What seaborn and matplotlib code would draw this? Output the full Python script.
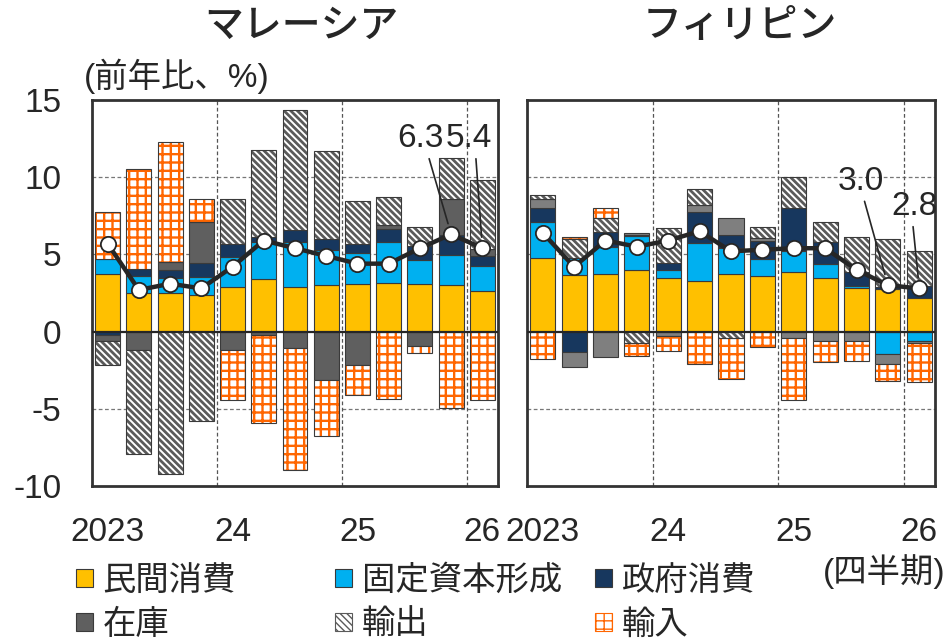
import numpy as np
import matplotlib
matplotlib.use("Agg")
import matplotlib.pyplot as plt
import seaborn as sns
from matplotlib.patches import Patch

# ---- data: contributions to real GDP growth (y/y, %pt), 2023Q1-2026Q1 ----
quarters = ["23Q1", "23Q2", "23Q3", "23Q4", "24Q1", "24Q2", "24Q3", "24Q4",
            "25Q1", "25Q2", "25Q3", "25Q4", "26Q1"]
tick_pos = [0, 4, 8, 12]
tick_labels = ["2023", "24", "25", "26"]
y_ticks = [-10, -5, 0, 5, 10, 15]
y_tick_labels = ["-10", "-5", "0", "5", "10", "15"]

component_names = ["民間消費", "固定資本形成", "政府消費", "在庫", "輸出", "輸入"]

# Malaysia
my_private = [3.70, 2.47, 2.47, 2.36, 2.86, 3.42, 2.88, 3.05, 3.07, 3.16, 3.07, 3.05, 2.60]
my_gfcf = [1.02, 1.14, 0.97, 1.15, 1.99, 2.38, 2.94, 2.23, 2.04, 2.66, 1.56, 1.91, 1.66]
my_gov = [-0.25, 0.43, 0.54, 0.91, 0.84, 0.30, 0.76, 0.69, 0.56, 0.80, 0.91, 1.30, 0.63]
my_stock = [-0.37, -1.17, 0.50, 2.70, -1.17, -0.25, -1.04, -3.12, -2.19, 0.30, -0.95, 2.33, 0.43]
my_export = [-1.52, -6.75, -9.22, -5.76, 2.90, 5.63, 7.75, 5.70, 2.79, 1.77, 1.21, 2.64, 4.51]
my_import = [3.00, 6.49, 7.79, 1.45, -3.29, -5.66, -7.90, -3.61, -1.90, -4.35, -0.41, -4.96, -4.46]
my_gdp = [5.7, 2.7, 3.1, 2.8, 4.2, 5.9, 5.4, 4.9, 4.4, 4.4, 5.4, 6.3, 5.4]

# Philippines
ph_private = [4.74, 3.67, 3.70, 3.98, 3.48, 3.30, 3.76, 3.57, 3.87, 3.48, 2.83, 2.78, 2.17]
ph_gfcf = [2.37, 1.11, 1.78, 2.19, 0.54, 2.46, 1.67, 1.11, 1.35, 0.87, 0.15, -1.46, -0.59]
ph_gov = [0.89, -1.35, 0.96, 0.10, 0.44, 2.00, 0.83, 1.20, 2.76, 1.48, 0.87, 0.10, 0.80]
ph_stock = [0.59, -0.93, -1.63, 0.10, -0.28, 0.43, 1.07, 0.15, -0.43, -0.61, -0.61, -0.67, -0.17]
ph_export = [0.26, 1.20, 0.89, -0.75, 2.28, 1.02, -0.40, 0.72, 2.02, 1.30, 2.30, 3.10, 2.24]
ph_import = [-1.78, 0.17, 0.67, -0.85, -0.96, -2.10, -2.64, -0.98, -4.03, -1.39, -1.30, -1.09, -2.50]
ph_gdp = [6.4, 4.2, 5.9, 5.5, 5.9, 6.5, 5.2, 5.3, 5.4, 5.4, 4.0, 3.0, 2.8]

# ---- style ----
sns.set_theme(style="white")
plt.rcParams["font.family"] = ["Liberation Sans", "Noto Sans CJK JP", "DejaVu Sans"]

TEXT = "#262626"
EDGE = "#3a3a3a"
C_PRIVATE = "#FFC000"
C_GFCF = "#00B0F0"
C_GOV = "#17375E"
C_EXPORT = "#5a5a5a"
C_IMPORT = "#FF6600"


def styles(stock_color):
    return [
        dict(color=C_PRIVATE, hatch=None),
        dict(color=C_GFCF, hatch=None),
        dict(color=C_GOV, hatch=None),
        dict(color=stock_color, hatch=None),
        dict(color="white", hatch="\\\\\\\\\\", hatch_color=C_EXPORT, hlw=2.0),
        dict(color="white", hatch="++", hatch_color=C_IMPORT, hlw=1.7),
    ]


def draw_panel(ax, comps, gdp, stock_color, labels):
    x = np.arange(len(quarters))
    pos_base = np.zeros(len(x))
    neg_base = np.zeros(len(x))
    for vals, st in zip(comps, styles(stock_color)):
        v = np.asarray(vals, dtype=float)
        bottom = np.where(v > 0, pos_base, neg_base)
        if st["hatch"] is None:
            ax.bar(x, v, bottom=bottom, width=0.8, color=st["color"],
                   edgecolor=EDGE, linewidth=0.8, zorder=2)
        else:
            with plt.rc_context({"hatch.linewidth": st["hlw"]}):
                bars = ax.bar(x, v, bottom=bottom, width=0.8, color="white",
                              edgecolor=st["hatch_color"], linewidth=0,
                              hatch=st["hatch"], zorder=2)
            for b in bars:
                if hasattr(b, "set_hatch_linewidth"):
                    b.set_hatch_linewidth(st["hlw"])
            ax.bar(x, v, bottom=bottom, width=0.8, fill=False,
                   edgecolor=EDGE, linewidth=0.8, zorder=2.1)
        pos_base += np.where(v > 0, v, 0)
        neg_base += np.where(v < 0, v, 0)

    # reference lines
    for yv in (10, 5, -5):
        ax.axhline(yv, color="#777777", lw=0.9, ls=(0, (3, 2)), zorder=0)
    for xv in (3.5, 7.5, 11.5):
        ax.axvline(xv, color="#555555", lw=0.9, ls=(0, (3, 2)), zorder=0)
    ax.axhline(0, color=TEXT, lw=1.6, zorder=4)

    sns.lineplot(x=x, y=gdp, ax=ax, color=TEXT, lw=3.2, marker="o",
                 markersize=11, markerfacecolor="white",
                 markeredgecolor=TEXT, markeredgewidth=1.3, zorder=5)

    for text, xi, xt, yt, rel in labels:
        ax.annotate(text, xy=(xi, gdp[xi]), xytext=(xt, yt), ha="center",
                    va="center", fontsize=24, color=TEXT, zorder=6,
                    arrowprops=dict(arrowstyle="-", color=TEXT, lw=1.2,
                                    shrinkA=1, shrinkB=8, relpos=(rel, 0.0)))

    ax.set_xlim(-0.5, 12.5)
    ax.set_ylim(-10, 15)
    ax.set_xticks(tick_pos, tick_labels)
    ax.set_xlabel("")
    ax.set_ylabel("")
    ax.tick_params(axis="both", length=0, labelsize=24, colors=TEXT)
    ax.tick_params(axis="x", pad=22)
    ax.tick_params(axis="y", pad=22)
    for sp in ax.spines.values():
        sp.set_visible(True)
        sp.set_color("#333333")
        sp.set_linewidth(2.0)


fig = plt.figure(figsize=(9.46, 6.43), dpi=100)
W, H = 946, 643
ax1 = fig.add_axes([92 / W, 1 - 486 / H, 406 / W, 386 / H])
ax2 = fig.add_axes([527 / W, 1 - 486 / H, 408 / W, 386 / H])

draw_panel(ax1, [my_private, my_gfcf, my_gov, my_stock, my_export, my_import],
           my_gdp, "#5f5f5f",
           [("6.3", 11, 10.03, 12.5, 0.65), ("5.4", 12, 11.56, 12.5, 0.65)])
draw_panel(ax2, [ph_private, ph_gfcf, ph_gov, ph_stock, ph_export, ph_import],
           ph_gdp, "#7f7f7f",
           [("3.0", 11, 10.14, 9.74, 0.55), ("2.8", 12, 11.86, 8.1, 0.45)])

ax1.set_yticks(y_ticks, y_tick_labels)
ax2.set_yticks(y_ticks, [])

# titles and notes
fig.text(301 / W, 1 - 27 / H, "マレーシア", ha="center", va="center",
         fontsize=28, fontweight="medium", color=TEXT)
fig.text(740 / W, 1 - 27 / H, "フィリピン", ha="center", va="center",
         fontsize=28, fontweight="medium", color=TEXT)
fig.text(84 / W, 1 - 76 / H, "(前年比、%)", ha="left", va="center",
         fontsize=24, color=TEXT)
fig.text(945 / W, 1 - 572 / H, "(四半期)", ha="right", va="center",
         fontsize=24, color=TEXT)

# legend, one entry per slot
st = styles("#5f5f5f")
handles = []
for s in st:
    if s["hatch"] is None:
        handles.append(Patch(facecolor=s["color"], edgecolor=EDGE, linewidth=0.8))
    else:
        handles.append(Patch(facecolor="white", edgecolor=s["hatch_color"],
                             hatch=s["hatch"], linewidth=0.8))
slots = [(76, 581), (335, 581), (595, 581), (76, 625), (335, 625), (595, 625)]
for h, name, (lx, ly) in zip(handles, component_names, slots):
    fig.legend([h], [name], loc="center left", bbox_to_anchor=(lx / W, 1 - ly / H),
               frameon=False, fontsize=24, handlelength=0.5, handleheight=0.45,
               handletextpad=0.3, borderpad=0, borderaxespad=0,
               labelcolor=TEXT)

fig.savefig("out.png", dpi=100)
